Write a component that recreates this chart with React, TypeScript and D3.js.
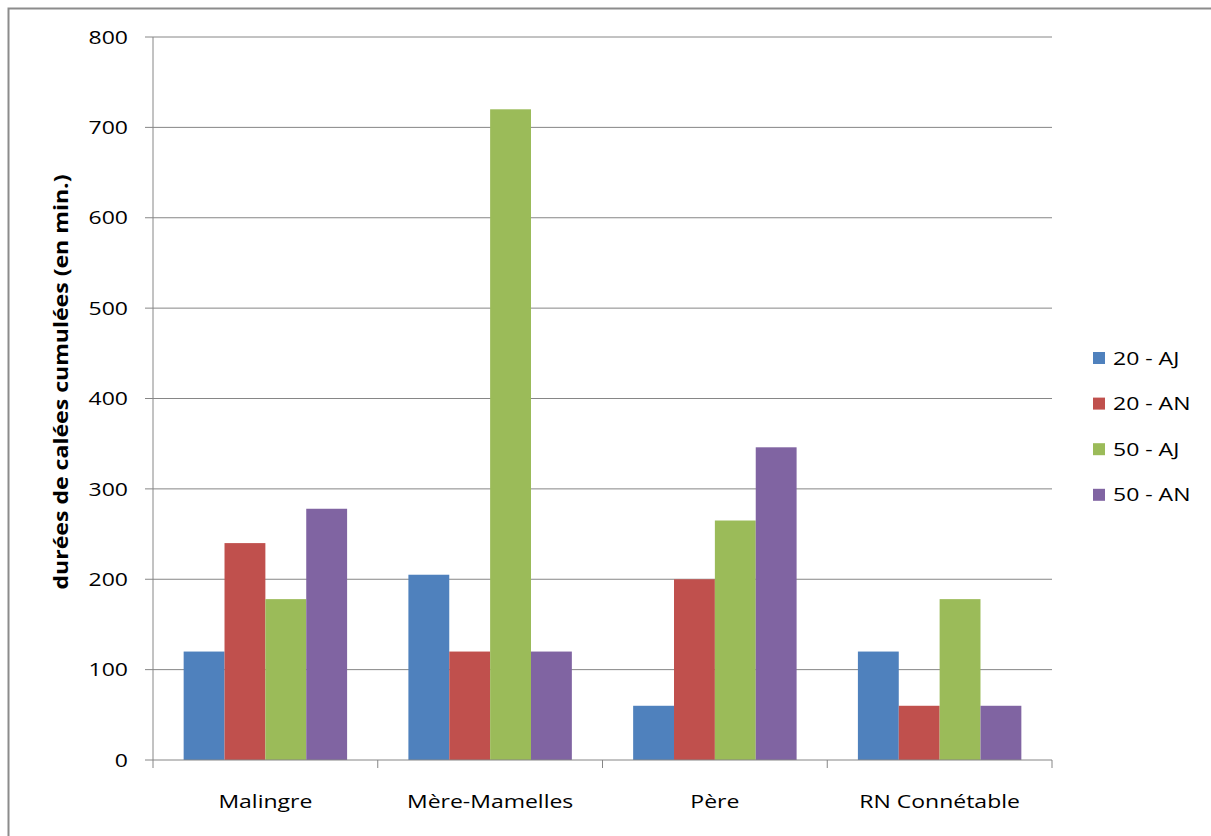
import React from "react";
import * as d3 from "d3";

const categories = ["Malingre", "Mère-Mamelles", "Père", "RN Connétable"];
const seriesNames = ["20 - AJ", "20 - AN", "50 - AJ", "50 - AN"];
const colors = ["#4F81BD", "#C0504D", "#9BBB59", "#8064A2"];
const s20AJ = [120, 205, 60, 120];
const s20AN = [240, 120, 200, 60];
const s50AJ = [178, 720, 265, 178];
const s50AN = [278, 120, 346, 60];
const seriesValues = [s20AJ, s20AN, s50AJ, s50AN];
const yTicks = [0, 100, 200, 300, 400, 500, 600, 700, 800];
const yTitle = "durées de calées cumulées (en min.)";

const W = 1211, H = 836;
const left = 153, right = 1052, top = 37, bottom = 760;
const font = "'Open Sans', sans-serif";
const SX = 1.21;

function T({ x, y, anchor = "start", children }: { x: number; y: number; anchor?: string; children: React.ReactNode }) {
  return (
    <g transform={`translate(${x},${y}) scale(${SX},1)`}>
      <text x={0} y={0} dy="0.35em" textAnchor={anchor} fontFamily={font} fontSize={19} fill="#000">
        {children}
      </text>
    </g>
  );
}

export default function App() {
  const x = d3.scaleBand<string>().domain(categories).range([left, right]).paddingInner(0).paddingOuter(0);
  const y = d3.scaleLinear().domain([0, 800]).range([bottom, top]);
  const bw = x.bandwidth() / (4 + 1.5);
  const inner = d3.scaleBand<number>().domain([0, 1, 2, 3]).range([0, bw * 4]);
  const axisColor = "#868686";
  return (
    <svg width={W} height={H} style={{ position: "absolute", left: 0, top: 0, background: "#fff" }}>
      <rect x={8.5} y={8.5} width={W + 10} height={H + 10} fill="none" stroke="#8c8c8c" strokeWidth={2} />
      {yTicks.map((t) => (
        <g key={t}>
          {t > 0 && <line x1={left} x2={right} y1={y(t)} y2={y(t)} stroke={axisColor} strokeWidth={1} />}
          <line x1={left - 8} x2={left} y1={y(t)} y2={y(t)} stroke={axisColor} />
          <T x={128} y={y(t)} anchor="end">{t}</T>
        </g>
      ))}
      <line x1={left} x2={left} y1={top} y2={bottom} stroke={axisColor} />
      {categories.map((c, i) => (
        <g key={c}>
          {seriesValues.map((vals, s) => (
            <rect
              key={s}
              x={(x(c) as number) + bw * 0.75 + (inner(s) as number)}
              y={y(vals[i])}
              width={inner.bandwidth()}
              height={bottom - y(vals[i])}
              fill={colors[s]}
            />
          ))}
          <T x={(x(c) as number) + x.bandwidth() / 2} y={801} anchor="middle">{c}</T>
        </g>
      ))}
      <line x1={left} x2={right} y1={bottom} y2={bottom} stroke={axisColor} />
      {[...categories.map((c) => x(c) as number), right].map((px, i) => (
        <line key={i} x1={px} x2={px} y1={bottom} y2={bottom + 8} stroke={axisColor} />
      ))}
      <text
        transform={`translate(61,382) rotate(-90)`}
        textAnchor="middle"
        dy="0.35em"
        fontFamily={font}
        fontSize={19}
        fontWeight="bold"
        fill="#000"
        textLength={415}
        lengthAdjust="spacingAndGlyphs"
      >
        {yTitle}
      </text>
      {seriesNames.map((n, i) => (
        <g key={n}>
          <rect x={1093} y={358 + i * 45.6 - 6} width={12} height={12} fill={colors[i]} />
          <T x={1113} y={358 + i * 45.6}>{n}</T>
        </g>
      ))}
    </svg>
  );
}
